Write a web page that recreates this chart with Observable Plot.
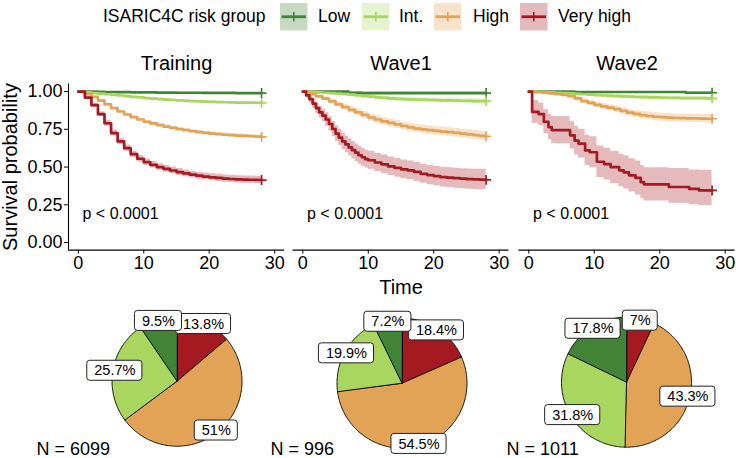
<!DOCTYPE html>
<html><head><meta charset="utf-8">
<script src="https://cdn.jsdelivr.net/npm/d3@7"></script>
<script src="https://cdn.jsdelivr.net/npm/@observablehq/plot@0.6"></script>
<style>
body{margin:0;background:#fff;}
#root{position:relative;width:736px;height:458px;font-family:"Liberation Sans",Arial,sans-serif;color:#000;overflow:hidden;background:#fff;}
#root svg{overflow:visible;}
.lt{position:absolute;font-size:17.5px;line-height:20px;white-space:nowrap;}
</style></head><body><div id="root"></div>
<script>
// ---------- categories / styling lists ----------
const groups = ["Low", "Int.", "High", "Very high"];
const colors = ["#418436", "#A8D65E", "#E3A357", "#A51A21"];
const panels = ["Training", "Wave1", "Wave2"];
const legendTitle = "ISARIC4C risk group";
const pText = "p < 0.0001";
const xTicks = [0, 10, 20, 30];
const yTicks = [0, 0.25, 0.5, 0.75, 1];

// ---------- survival curves ----------
const days = [0,1,2,3,4,5,6,7,8,9,10,11,12,13,14,15,16,17,18,19,20,21,22,23,24,25,26,27,28];

const trainLow  = [1,1,.999,.998,.997,.997,.996,.996,.995,.995,.994,.994,.993,.993,.993,.992,.992,.992,.992,.991,.991,.991,.991,.991,.99,.99,.99,.99,.99];
const trainInt  = [1,.995,.99,.986,.982,.978,.974,.97,.965,.961,.957,.953,.95,.947,.944,.941,.939,.937,.935,.933,.931,.93,.929,.928,.927,.926,.926,.925,.925];
const trainHigh = [1,.985,.965,.94,.915,.89,.868,.848,.83,.815,.80,.789,.778,.768,.759,.751,.744,.737,.731,.726,.722,.718,.714,.711,.708,.706,.704,.702,.70];
const trainVH   = [1,.96,.91,.85,.79,.725,.67,.625,.585,.555,.532,.515,.5,.488,.477,.467,.458,.45,.443,.437,.432,.428,.424,.421,.419,.417,.416,.415,.414];
const trainLowCI  = [0,.001,.001,.002,.002,.002,.002,.002,.002,.002,.002,.002,.003,.003,.003,.003,.003,.003,.003,.003,.003,.003,.003,.003,.003,.003,.003,.003,.003];
const trainIntCI  = [0,.002,.003,.003,.004,.004,.004,.005,.005,.005,.005,.005,.006,.006,.006,.006,.006,.006,.006,.006,.006,.006,.006,.006,.006,.006,.006,.006,.006];
const trainHighCI = [0,.003,.004,.005,.006,.007,.008,.008,.009,.009,.009,.01,.01,.01,.01,.01,.011,.011,.011,.011,.011,.011,.011,.011,.011,.011,.011,.011,.011];
const trainVHCI   = [0,.01,.014,.017,.019,.02,.021,.021,.022,.022,.022,.022,.022,.023,.023,.023,.023,.023,.023,.023,.023,.024,.024,.024,.024,.024,.024,.024,.024];

const wave1Low  = [1,1,1,1,1,1,1,.991,.991,.99,.99,.99,.99,.99,.99,.99,.99,.99,.99,.99,.99,.99,.99,.99,.99,.99,.99,.99,.99];
const wave1Int  = [1,.998,.995,.992,.989,.986,.983,.979,.975,.97,.966,.962,.958,.955,.952,.95,.948,.946,.945,.944,.943,.942,.941,.94,.939,.938,.937,.936,.936];
const wave1High = [1,.985,.968,.953,.935,.915,.897,.879,.862,.845,.828,.815,.803,.792,.782,.772,.763,.755,.749,.744,.739,.735,.731,.727,.722,.717,.712,.707,.704];
const wave1LowCI  = [0,0,0,0,0,0,0,.007,.007,.007,.007,.008,.008,.008,.008,.008,.008,.008,.008,.008,.008,.008,.008,.008,.008,.008,.008,.008,.008];
const wave1IntCI  = [0,.002,.004,.006,.007,.008,.009,.01,.011,.012,.012,.013,.013,.014,.014,.014,.015,.015,.015,.015,.015,.015,.016,.016,.016,.016,.016,.016,.016];
const wave1HighCI = [0,.006,.01,.013,.016,.018,.02,.021,.022,.023,.024,.025,.025,.026,.026,.027,.027,.027,.028,.028,.028,.028,.029,.029,.029,.03,.03,.03,.03];
const wave1VHT  = [0,.5,1,1.5,2,2.5,3,3.5,4,4.5,5,5.5,6,6.5,7,7.5,8,8.5,9,9.5,10,11,12,13,14,15,16,17,18,19,20,21,22,23,24,25,26,27,28];
const wave1VH   = [1,.975,.95,.92,.89,.862,.84,.815,.785,.752,.722,.695,.67,.65,.63,.612,.595,.578,.565,.553,.545,.53,.518,.505,.495,.485,.478,.468,.455,.447,.44,.433,.43,.426,.423,.42,.419,.417,.415];
const wave1VHCI = [0,.015,.025,.03,.035,.039,.042,.045,.048,.05,.052,.053,.055,.056,.057,.058,.058,.059,.059,.06,.06,.06,.061,.061,.062,.062,.062,.063,.063,.064,.064,.065,.065,.066,.066,.067,.067,.068,.068];

const wave2Low  = [1,1,1,1,1,1,1,.997,.997,.997,.997,.997,.997,.997,.997,.997,.997,.997,.997,.997,.997,.997,.997,.997,.992,.992,.992,.992,.992];
const wave2Int  = [1,.998,.996,.994,.992,.99,.988,.985,.982,.979,.976,.974,.972,.97,.968,.966,.964,.963,.962,.961,.96,.959,.958,.957,.957,.956,.956,.955,.955];
const wave2High = [1,.997,.993,.988,.983,.978,.97,.955,.937,.925,.912,.902,.893,.884,.872,.86,.852,.843,.838,.833,.83,.827,.825,.824,.823,.822,.821,.82,.82];
const wave2LowCI  = [0,0,0,0,0,0,0,.004,.004,.004,.004,.004,.004,.004,.004,.004,.004,.004,.004,.004,.004,.004,.004,.004,.007,.007,.007,.007,.007];
const wave2IntCI  = [0,.002,.003,.004,.005,.006,.007,.008,.008,.009,.01,.01,.011,.011,.011,.012,.012,.012,.012,.013,.013,.013,.013,.013,.013,.013,.013,.013,.013];
const wave2HighCI = [0,.003,.005,.007,.009,.01,.012,.014,.016,.017,.018,.019,.02,.021,.022,.023,.024,.025,.025,.026,.026,.027,.027,.027,.028,.028,.028,.028,.028];
const wave2VHT  = [0,.5,1.5,2.3,3,3.5,6.3,7,7.6,8.6,9.3,10.4,11.5,12.5,13.8,14.5,15.3,16.3,17.1,17.6,21.4,24.5,26,28];
const wave2VH   = [1,.865,.85,.80,.765,.745,.71,.675,.655,.61,.598,.535,.52,.50,.478,.465,.445,.428,.40,.385,.368,.355,.345,.345];
const wave2VHLo = [1,.79,.775,.72,.68,.655,.62,.58,.56,.51,.495,.43,.415,.39,.37,.355,.335,.315,.29,.275,.26,.25,.245,.245];
const wave2VHHi = [1,.94,.925,.88,.85,.835,.80,.77,.75,.71,.70,.64,.625,.605,.585,.575,.555,.54,.51,.495,.49,.48,.478,.478];

// ---------- pie data ----------
const pieTraining = [9.5, 25.7, 51, 13.8];   // Low, Int., High, Very high
const pieWave1    = [7.2, 19.9, 54.5, 18.4];
const pieWave2    = [17.8, 31.8, 43.3, 7];
const pieN        = [6099, 996, 1011];

// ---------- build tables ----------
const series = [
  {panel:"Training", group:"Low", t:days, s:trainLow, ci:trainLowCI},
  {panel:"Training", group:"Int.", t:days, s:trainInt, ci:trainIntCI},
  {panel:"Training", group:"High", t:days, s:trainHigh, ci:trainHighCI},
  {panel:"Training", group:"Very high", t:days, s:trainVH, ci:trainVHCI},
  {panel:"Wave1", group:"Low", t:days, s:wave1Low, ci:wave1LowCI},
  {panel:"Wave1", group:"Int.", t:days, s:wave1Int, ci:wave1IntCI},
  {panel:"Wave1", group:"High", t:days, s:wave1High, ci:wave1HighCI},
  {panel:"Wave1", group:"Very high", t:wave1VHT, s:wave1VH, ci:wave1VHCI},
  {panel:"Wave2", group:"Low", t:days, s:wave2Low, ci:wave2LowCI},
  {panel:"Wave2", group:"Int.", t:days, s:wave2Int, ci:wave2IntCI},
  {panel:"Wave2", group:"High", t:days, s:wave2High, ci:wave2HighCI},
  {panel:"Wave2", group:"Very high", t:wave2VHT, s:wave2VH, lo:wave2VHLo, hi:wave2VHHi}
];
const km = series.flatMap(d => d.t.map((t, i) => ({
  panel: d.panel, group: d.group, t, s: d.s[i],
  lo: d.lo ? d.lo[i] : d.s[i] - d.ci[i],
  hi: d.hi ? d.hi[i] : Math.min(1, d.s[i] + d.ci[i])
})));
const kmLast = series.map(d => ({panel: d.panel, group: d.group, t: d.t[d.t.length - 1], s: d.s[d.s.length - 1]}));

const root = document.getElementById("root");
const fontFamily = '"Liberation Sans", Arial, sans-serif';
const colorScale = {domain: groups, range: colors};

function place(el, left, top) {
  el.style.position = "absolute";
  el.style.left = left + "px";
  el.style.top = top + "px";
  root.appendChild(el);
}

// ---------- legend ----------
(function legend() {
  const t = document.createElement("div");
  t.className = "lt"; t.textContent = legendTitle;
  place(t, 103, 6);
  const keyX = [280, 361.5, 434, 520];
  const labX = [318, 399, 473, 558];
  groups.forEach((g, i) => {
    const ns = "http://www.w3.org/2000/svg";
    const svg = document.createElementNS(ns, "svg");
    svg.setAttribute("width", 27.5); svg.setAttribute("height", 27.5);
    svg.innerHTML = `<rect x="0" y="0" width="27.5" height="27.5" fill="${colors[i]}" fill-opacity="0.3"/>
      <line x1="1.5" x2="26" y1="13.75" y2="13.75" stroke="${colors[i]}" stroke-width="2.8"/>
      <line x1="13.75" x2="13.75" y1="9" y2="18.5" stroke="${colors[i]}" stroke-width="1.6"/>`;
    place(svg, keyX[i], 2.5);
    const l = document.createElement("div");
    l.className = "lt"; l.textContent = g;
    place(l, labX[i], 6);
  });
})();

// ---------- KM panels ----------
const panelLeft = [0, 284, 510];
const panelMarginLeft = [68, 8.5, 8.5];
panels.forEach((p, pi) => {
  const rows = km.filter(d => d.panel === p);
  const last = kmLast.filter(d => d.panel === p);
  const marks = [
    Plot.areaY(rows, {x: "t", y1: "lo", y2: "hi", z: "group", fill: "group", fillOpacity: 0.3, curve: "step-after"}),
    Plot.line(rows, {x: "t", y: "s", z: "group", stroke: "group", strokeWidth: 2.7, curve: "step-after"}),
    Plot.dot(last, {x: "t", y: "s", stroke: "group", symbol: "plus", r: 3.3, strokeWidth: 1.7}),
    Plot.ruleY([-0.05], {stroke: "black", strokeWidth: 1.1}),
    Plot.text([p], {frameAnchor: "top", lineAnchor: "middle", dy: -20.5, fontSize: 20}),
    Plot.text([pText], {frameAnchor: "bottom-left", lineAnchor: "middle", dx: 14, dy: -36.6, textAnchor: "start", fontSize: 16})
  ];
  if (pi === 0) {
    marks.push(Plot.ruleX([-1.5], {stroke: "black", strokeWidth: 1.1}));
    marks.push(Plot.text(["Survival probability"], {frameAnchor: "left", textAnchor: "middle", lineAnchor: "middle", dx: -58, rotate: -90, fontSize: 20}));
  }
  if (pi === 1) {
    marks.push(Plot.text(["Time"], {frameAnchor: "bottom", lineAnchor: "middle", dy: 37, fontSize: 20}));
  }
  const chart = Plot.plot({
    width: panelMarginLeft[pi] + 216,
    height: 260,
    marginLeft: panelMarginLeft[pi], marginRight: 0, marginTop: 43.5, marginBottom: 50.4,
    x: {domain: [-1.5, 31.5], ticks: xTicks, tickSize: 4, tickPadding: 2, label: null},
    y: {domain: [-0.05, 1.05], ticks: yTicks, tickFormat: d3.format(".2f"), tickSize: 4, tickPadding: 2, label: null, axis: pi === 0 ? "left" : null},
    color: colorScale,
    style: {fontFamily, fontSize: "18px", color: "black", background: "transparent", overflow: "visible"},
    marks
  });
  place(chart, panelLeft[pi], 40);
});

// ---------- pies ----------
const pieVals = [pieTraining, pieWave1, pieWave2];
const pieCx = [176.5, 401.5, 626];
const pieCy = [380.7, 382.7, 381.7];
const nLeft = [36, 270, 506];
const R = 65;       // pixels per unit radius
const order = [3, 2, 1, 0]; // clockwise from 12 o'clock: Very high, High, Int., Low
const labelFont = 14.5;
const ctx = document.createElement("canvas").getContext("2d");
ctx.font = `${labelFont}px ${fontFamily}`;

pieVals.forEach((vals, pi) => {
  const total = d3.sum(vals);
  let cum = 0;
  const poly = [];
  const labels = [];
  order.forEach(gi => {
    const a0 = cum / total * 2 * Math.PI;
    cum += vals[gi];
    const a1 = cum / total * 2 * Math.PI;
    const n = Math.max(2, Math.ceil((a1 - a0) / 0.02));
    poly.push({group: groups[gi], x: 0, y: 0});
    for (let k = 0; k <= n; k++) {
      const a = a0 + (a1 - a0) * k / n;
      poly.push({group: groups[gi], x: Math.sin(a), y: Math.cos(a)});
    }
    const am = (a0 + a1) / 2;
    const text = `${vals[gi]}%`;
    const hw = (ctx.measureText(text).width / 2 + 7) / R;
    const hh = 10 / R;
    const lx = 0.97 * Math.sin(am), ly = 0.97 * Math.cos(am);
    labels.push({text, x: lx, y: ly, x1: lx - hw, x2: lx + hw, y1: ly - hh, y2: ly + hh});
  });
  const w = 2 * (pieCx[pi] - nLeft[pi]);
  const h = 168;
  const cyLocal = pieCy[pi] - 290;
  const chart = Plot.plot({
    width: w, height: h,
    marginLeft: 0, marginRight: 0, marginTop: 0, marginBottom: 0,
    x: {domain: [-w / 2 / R, w / 2 / R], axis: null},
    y: {domain: [-(h - cyLocal) / R, cyLocal / R], axis: null},
    color: colorScale,
    style: {fontFamily, fontSize: "14.5px", color: "black", background: "transparent", overflow: "visible"},
    marks: [
      Plot.line(poly, {x: "x", y: "y", z: "group", fill: "group", stroke: "black", strokeWidth: 0.9, curve: "linear-closed"}),
      Plot.rect(labels, {x1: "x1", x2: "x2", y1: "y1", y2: "y2", fill: "white", stroke: "#222", strokeWidth: 1, rx: 3}),
      Plot.text(labels, {x: "x", y: "y", text: "text", fontSize: labelFont}),
      Plot.text([`N = ${pieN[pi]}`], {frameAnchor: "bottom-left", lineAnchor: "middle", dy: -9, textAnchor: "start", fontSize: 18})
    ]
  });
  place(chart, nLeft[pi], 290);
});
</script>
</body></html>
